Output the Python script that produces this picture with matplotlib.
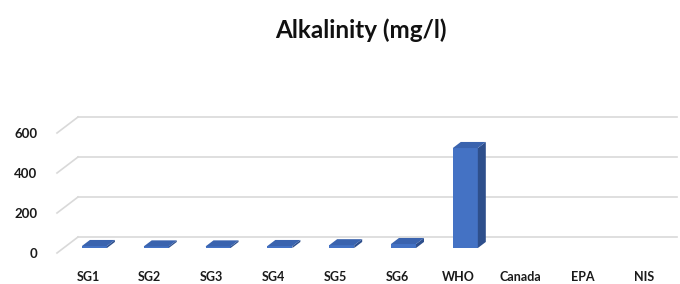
import numpy as np
import matplotlib
matplotlib.use("Agg")
import matplotlib.pyplot as plt
from matplotlib.patches import Polygon

categories = ["SG1", "SG2", "SG3", "SG4", "SG5", "SG6", "WHO", "Canada", "EPA", "NIS"]
alkalinity = [10, 8, 8, 10, 14, 20, 500, np.nan, np.nan, np.nan]
yticks = [0, 200, 400, 600]

# fake 3d: floor depth in data units, bars sit in the middle of the floor
floor_dx, floor_dy = 0.34, 80
f0, fd = 0.31, 0.38
bar_w = 0.405

plt.rcParams['font.family'] = ['Lato', 'DejaVu Sans']

fig = plt.figure(figsize=(6.8, 2.84), dpi=100)
ax = fig.add_axes([57/680, 31/284, 620/680, 153/284])
ax.set_xlim(-0.5, 9.53)
ax.set_ylim(0, 765)

grid_c = "#D9D9D9"
for v in yticks:
    ax.plot([-0.5, -0.5 + floor_dx], [v, v + floor_dy], color=grid_c, lw=1.2, zorder=1, clip_on=False)
    ax.plot([-0.5 + floor_dx, 9.53], [v + floor_dy, v + floor_dy], color=grid_c, lw=1.2, zorder=1, clip_on=False)

sx = f0 * floor_dx
y0 = f0 * floor_dy
ddx = fd * floor_dx
ddy = fd * floor_dy
for i, v in enumerate(alkalinity):
    if np.isnan(v):
        continue
    x0 = i + sx - bar_w / 2
    x1 = x0 + bar_w
    ax.bar(i + sx, v, bottom=y0, width=bar_w, color="#4472C4", zorder=3)
    side = Polygon([(x1, y0), (x1 + ddx, y0 + ddy), (x1 + ddx, y0 + v + ddy), (x1, y0 + v)],
                   closed=True, facecolor="#2E4F8C", edgecolor="none", zorder=3)
    top = Polygon([(x0, y0 + v), (x1, y0 + v), (x1 + ddx, y0 + v + ddy), (x0 + ddx, y0 + v + ddy)],
                  closed=True, facecolor="#3A63AE", edgecolor="none", zorder=3)
    ax.add_patch(side)
    ax.add_patch(top)

ax.set_xticks(range(len(categories)))
ax.set_xticklabels(categories, fontsize=9, fontweight="bold", color="#1a1a1a")
ax.set_yticks(yticks)
ax.set_yticklabels([str(t) for t in yticks], fontsize=9.5, fontweight="bold", color="#1a1a1a")
ax.tick_params(axis="x", length=0, pad=13)
ax.tick_params(axis="y", length=0, pad=14)
for s in ax.spines.values():
    s.set_visible(False)

fig.text(361/680, 1 - 30/284, "Alkalinity (mg/l)", ha="center", va="center",
         fontsize=17.5, fontweight="bold", color="#111111")

fig.savefig("out.png", dpi=100)
